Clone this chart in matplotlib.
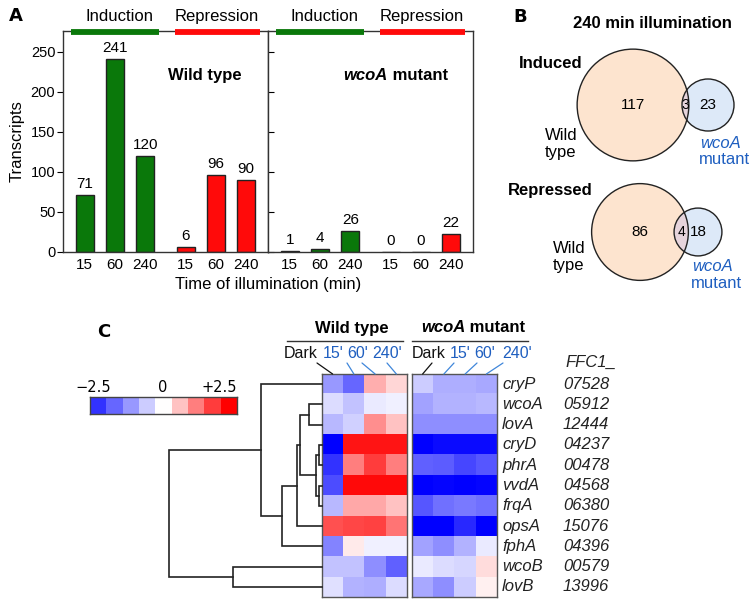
import numpy as np
import matplotlib
matplotlib.use("Agg")
import matplotlib.pyplot as plt
from matplotlib.patches import Circle, ConnectionPatch
from matplotlib.colors import LinearSegmentedColormap
from matplotlib.lines import Line2D
import matplotlib.transforms as mtransforms

plt.rcParams['font.family'] = ['Liberation Sans', 'DejaVu Sans']

W, H = 756, 606

# ---- panel A: number of light regulated transcripts
times = ["15", "60", "240"]
wt_induced = [71, 241, 120]
wt_repressed = [6, 96, 90]
mut_induced = [1, 4, 26]
mut_repressed = [0, 0, 22]

# ---- panel B: venn counts at 240 min (WT only, both, mutant only)
venn_induced = [117, 3, 23]
venn_repressed = [86, 4, 18]

# ---- panel C: heatmap
genes = ["cryP", "wcoA", "lovA", "cryD", "phrA", "vvdA", "frqA", "opsA", "fphA", "wcoB", "lovB"]
gene_ids = ["07528", "05912", "12444", "04237", "00478", "04568", "06380", "15076", "04396", "00579", "13996"]
conditions = ["Dark", "15'", "60'", "240'"]
wt_expr = [
    [-1.0, -1.5, 0.8, 0.4],
    [-0.35, -0.6, -0.2, -0.15],
    [-0.7, -0.45, 1.1, 0.6],
    [-2.5, 2.3, 2.3, 2.3],
    [-2.0, 1.25, 1.9, 1.25],
    [-1.75, 2.4, 2.4, 2.4],
    [-0.7, 0.85, 0.85, 0.6],
    [1.7, 1.8, 1.85, 1.35],
    [-1.2, 0.2, -0.15, -0.15],
    [-0.6, -0.6, -1.1, -1.55],
    [-0.3, -0.75, -0.8, -0.35],
]
mut_expr = [
    [-0.5, -0.8, -0.8, -0.85],
    [-0.9, -0.75, -0.75, -0.7],
    [-1.1, -1.1, -1.1, -1.1],
    [-2.5, -2.4, -2.4, -2.4],
    [-1.55, -1.6, -1.8, -1.65],
    [-2.5, -2.45, -2.5, -2.45],
    [-1.65, -1.4, -1.3, -1.4],
    [-2.5, -2.5, -2.1, -2.5],
    [-0.9, -1.1, -0.75, -0.2],
    [-0.2, -0.35, -0.4, 0.35],
    [-0.85, -1.1, -0.5, 0.15],
]
# hierarchical clustering: (node a, node b, height); leaves 0-10, new nodes from 11
merges = [(1, 2, 13), (3, 4, 3), (5, 6, 3), (12, 13, 6), (11, 14, 22),
          (15, 7, 25), (16, 8, 40), (0, 17, 61), (9, 10, 89), (18, 19, 153)]
cbar_levels = [-2.0, -1.5, -1.0, -0.5, 0.0, 0.6, 1.25, 1.9, 2.5]

green = '#0a780a'
red = '#ff0a0a'
blue_txt = '#1f5fc0'


def box(x0, y0, x1, y1):
    return [x0 / W, 1 - y1 / H, (x1 - x0) / W, (y1 - y0) / H]


def ftext(x, y, s, **kw):
    kw.setdefault('ha', 'center')
    kw.setdefault('va', 'center')
    return fig.text(x / W, 1 - y / H, s, **kw)


fig = plt.figure(figsize=(W / 100, H / 100), dpi=100)

# ================= A =================
axA1 = fig.add_axes(box(63, 31, 268, 252))
axA2 = fig.add_axes(box(268, 31, 473, 252))
xi = np.arange(3)
xr = np.arange(3) + 3.33
for ax, ind, rep in [(axA1, wt_induced, wt_repressed), (axA2, mut_induced, mut_repressed)]:
    ax.bar(xi, ind, width=0.6, color=green, edgecolor='#222222', lw=1)
    ax.bar(xr, rep, width=0.6, color=red, edgecolor='#222222', lw=1)
    for x, v in zip(list(xi) + list(xr), ind + rep):
        ax.annotate(str(v), (x, v), xytext=(0, 3), textcoords='offset points',
                    ha='center', va='bottom', fontsize=11)
    ax.set_xlim(-0.72, 6.05)
    ax.set_ylim(0, 276)
    ax.set_xticks(list(xi) + list(xr))
    ax.set_xticklabels(times * 2, fontsize=11)
    ax.tick_params(axis='x', length=0, pad=4)
    ax.set_yticks(range(0, 251, 50))
    for s in ax.spines.values():
        s.set_color('#333333')
        s.set_linewidth(1)
    # header strips
    ax.plot([-0.45, 2.45], [275, 275], lw=4.2, color=green, clip_on=False,
            solid_capstyle='butt', zorder=5)
    ax.plot([3.33 - 0.45 + 0.1, 5.33 + 0.45], [275, 275], lw=4.2, color=red, clip_on=False,
            solid_capstyle='butt', zorder=5)
    ax.text(1.15, 294, "Induction", ha='center', va='center', fontsize=12)
    ax.text(4.35, 294, "Repression", ha='center', va='center', fontsize=12)

axA1.tick_params(axis='y', length=4, pad=1.5, labelsize=10.5)
axA2.tick_params(axis='y', direction='in', length=4, labelleft=False)
axA1.text(0.69, 0.80, "Wild type", transform=axA1.transAxes, ha='center', va='center',
          fontsize=12, fontweight='bold')
axA2.text(0.585, 0.80, "wcoA", transform=axA2.transAxes, ha='right', va='center',
          fontsize=12, fontweight='bold', style='italic')
axA2.text(0.585, 0.80, " mutant", transform=axA2.transAxes, ha='left', va='center',
          fontsize=12, fontweight='bold')
ftext(17, 141, "Transcripts", rotation=90, fontsize=12)
ftext(268, 284, "Time of illumination (min)", fontsize=12)
ftext(16, 16, "A", fontsize=13, fontweight='bold', family='DejaVu Sans')

# ================= B =================
axB = fig.add_axes(box(480, 0, 756, 290))
axB.set_xlim(480, 756)
axB.set_ylim(290, 0)
axB.axis('off')
k = 5.1


def venn(ax, counts, cx, cy, dx):
    r1 = k * np.sqrt(counts[0] + counts[1])
    r2 = k * np.sqrt(counts[1] + counts[2])
    c1 = Circle((cx, cy), r1, fc='#fde4cf', ec='none')
    c2 = Circle((cx + dx, cy), r2, fc='#dde9f8', ec='none')
    ax.add_patch(c1)
    ax.add_patch(c2)
    lens = Circle((cx, cy), r1, fc='#e6d4dc', ec='none')
    ax.add_patch(lens)
    lens.set_clip_path(c2)
    ax.add_patch(Circle((cx, cy), r1, fc='none', ec='#222222', lw=1))
    ax.add_patch(Circle((cx + dx, cy), r2, fc='none', ec='#222222', lw=1))
    lx = ((cx + dx - r2) + (cx + r1)) / 2
    ax.text(cx, cy, str(counts[0]), ha='center', va='center', fontsize=11)
    ax.text(lx, cy, str(counts[1]), ha='center', va='center', fontsize=10)
    ax.text(cx + dx, cy, str(counts[2]), ha='center', va='center', fontsize=11)


venn(axB, venn_induced, 633, 105, 75)
venn(axB, venn_repressed, 640, 232, 58)

ftext(520, 17, "B", fontsize=13, fontweight='bold', family='DejaVu Sans')
ftext(652, 23, "240 min illumination", fontsize=12, fontweight='bold')
ftext(551, 63, "Induced", fontsize=12, fontweight='bold')
ftext(550, 190, "Repressed", fontsize=12, fontweight='bold')
ftext(545, 144, "Wild\ntype", ha='left', fontsize=12, linespacing=1.1)
ftext(553, 257, "Wild\ntype", ha='left', fontsize=12, linespacing=1.1)
ftext(721, 143, "wcoA", fontsize=12, color=blue_txt, style='italic')
ftext(724, 160, "mutant", fontsize=12, color=blue_txt)
ftext(713, 267, "wcoA", fontsize=12, color=blue_txt, style='italic')
ftext(716, 284, "mutant", fontsize=12, color=blue_txt)

# ================= C =================
cmap = LinearSegmentedColormap.from_list('bwr2', ['#0000ff', '#ffffff', '#ff0000'])
ftext(104, 332, "C", fontsize=13, fontweight='bold', family='DejaVu Sans')

axCb = fig.add_axes(box(90, 397, 237, 414))
axCb.imshow(np.array(cbar_levels)[None, :], cmap=cmap, vmin=-2.5, vmax=2.5, aspect='auto')
axCb.set_xticks([])
axCb.set_yticks([])
for s in axCb.spines.values():
    s.set_color('#444444')
    s.set_linewidth(1)
ftext(93, 387, "\u22122.5", fontsize=10.5, family='DejaVu Sans')
ftext(163, 387, "0", fontsize=10.5, family='DejaVu Sans')
ftext(237, 387, "+2.5", ha='right', fontsize=10.5, family='DejaVu Sans')

axWT = fig.add_axes(box(322, 374, 407, 597))
axMU = fig.add_axes(box(412, 374, 497, 597))
for ax, data in [(axWT, wt_expr), (axMU, mut_expr)]:
    ax.imshow(np.array(data), cmap=cmap, vmin=-2.5, vmax=2.5, aspect='auto',
              interpolation='nearest')
    ax.set_xticks([])
    ax.set_yticks([])
    for s in ax.spines.values():
        s.set_color('#555555')
        s.set_linewidth(1)

tr = mtransforms.blended_transform_factory(axMU.transAxes, axMU.transData)
for i, (g, gid) in enumerate(zip(genes, gene_ids)):
    axMU.text(1.06, i, g, transform=tr, ha='left', va='center', fontsize=12,
              style='italic', color='#222222')
    axMU.text(1.775, i, gid, transform=tr, ha='left', va='center', fontsize=12,
              style='italic', color='#222222')
ftext(565, 362, "FFC1_", ha='left', fontsize=12, style='italic', color='#222222')

# column headers
ftext(352, 328, "Wild type", fontsize=12, fontweight='bold')
ftext(465, 328, "wcoA", ha='right', fontsize=12, fontweight='bold', style='italic')
ftext(465, 328, " mutant", ha='left', fontsize=12, fontweight='bold')
fig.add_artist(Line2D([287 / W, 403 / W], [1 - 341 / H, 1 - 341 / H], color='#333333', lw=1))
fig.add_artist(Line2D([412 / W, 528 / W], [1 - 341 / H, 1 - 341 / H], color='#333333', lw=1))

lab_x = {axWT: [301, 333, 358, 387], axMU: [429, 460, 485, 517]}
line_x = {axWT: [317, 347, 362, 387], axMU: [432, 454, 477, 503]}
for ax in (axWT, axMU):
    for j, c in enumerate(conditions):
        col = '#111111' if j == 0 else blue_txt
        lcol = '#111111' if j == 0 else '#3f86da'
        ftext(lab_x[ax][j], 354, c, fontsize=11.5, color=col)
        con = ConnectionPatch(xyA=(line_x[ax][j], H - 363), coordsA='figure pixels',
                              xyB=(j, -0.5), coordsB='data', axesB=ax,
                              color=lcol, lw=0.9)
        fig.add_artist(con)

# dendrogram
axD = fig.add_axes(box(160, 374, 322, 597))
axD.set_xlim(162, 0)
axD.set_ylim(len(genes) - 0.5, -0.5)
axD.axis('off')
pos = {i: (0.0, float(i)) for i in range(len(genes))}
for n, (a, b, h) in enumerate(merges):
    ha_, ya = pos[a]
    hb, yb = pos[b]
    axD.plot([ha_, h, h, hb], [ya, ya, yb, yb], color='#222222', lw=1.2,
             clip_on=False, solid_joinstyle='miter')
    pos[len(genes) + n] = (h, (ya + yb) / 2)

fig.savefig("out.png", dpi=100)
